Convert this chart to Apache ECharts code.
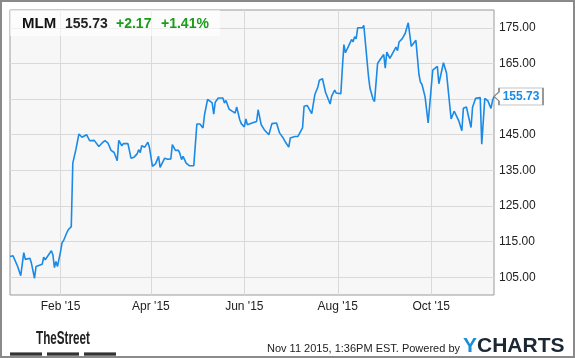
<!DOCTYPE html>
<html><head><meta charset="utf-8">
<script src="https://cdn.jsdelivr.net/npm/echarts@6/dist/echarts.min.js"></script>
<style>html,body{margin:0;padding:0;background:#fff}#c{width:575px;height:358px}</style>
</head><body><div id="c"></div>
<script>
const dates = ['2014-12-30','2015-01-01','2015-01-04','2015-01-06','2015-01-08','2015-01-09','2015-01-12','2015-01-13','2015-01-15','2015-01-16',
'2015-01-20','2015-01-21','2015-01-22','2015-01-26','2015-01-27','2015-01-28','2015-01-29','2015-01-30','2015-02-01','2015-02-02',
'2015-02-03','2015-02-05','2015-02-06','2015-02-08','2015-02-09','2015-02-11','2015-02-13','2015-02-15','2015-02-16','2015-02-18',
'2015-02-19','2015-02-20','2015-02-23','2015-02-24','2015-02-26','2015-02-28','2015-03-02','2015-03-04','2015-03-06','2015-03-08',
'2015-03-10','2015-03-11','2015-03-13','2015-03-14','2015-03-17','2015-03-19','2015-03-21','2015-03-23','2015-03-24','2015-03-25',
'2015-03-26','2015-03-28','2015-03-30','2015-03-31','2015-04-02','2015-04-04','2015-04-06','2015-04-07','2015-04-08','2015-04-10',
'2015-04-12','2015-04-14','2015-04-15','2015-04-16','2015-04-17','2015-04-19','2015-04-20','2015-04-21','2015-04-22','2015-04-24',
'2015-04-26','2015-04-29','2015-05-01','2015-05-03','2015-05-05','2015-05-06','2015-05-08','2015-05-11','2015-05-12','2015-05-13',
'2015-05-15','2015-05-18','2015-05-19','2015-05-20','2015-05-22','2015-05-24','2015-05-26','2015-05-27','2015-05-29','2015-05-30',
'2015-06-01','2015-06-02','2015-06-03','2015-06-06','2015-06-09','2015-06-10','2015-06-11','2015-06-12','2015-06-14','2015-06-17',
'2015-06-19','2015-06-20','2015-06-22','2015-06-24','2015-06-26','2015-06-28','2015-06-30','2015-07-01','2015-07-04','2015-07-06',
'2015-07-07','2015-07-09','2015-07-10','2015-07-12','2015-07-13','2015-07-15','2015-07-17','2015-07-19','2015-07-20','2015-07-22',
'2015-07-24','2015-07-27','2015-07-28','2015-07-30','2015-07-31','2015-08-03','2015-08-04','2015-08-05','2015-08-06','2015-08-07',
'2015-08-10','2015-08-11','2015-08-12','2015-08-13','2015-08-14','2015-08-17','2015-08-18','2015-08-21','2015-08-22','2015-08-24',
'2015-08-25','2015-08-27','2015-08-29','2015-08-31','2015-09-01','2015-09-02','2015-09-04','2015-09-08','2015-09-09','2015-09-10',
'2015-09-12','2015-09-14','2015-09-16','2015-09-17','2015-09-18','2015-09-21','2015-09-23','2015-09-24','2015-09-25','2015-09-27',
'2015-09-29','2015-10-02','2015-10-05','2015-10-06','2015-10-07','2015-10-09','2015-10-11','2015-10-14','2015-10-16','2015-10-18',
'2015-10-19','2015-10-20','2015-10-21','2015-10-22','2015-10-24','2015-10-25','2015-10-27','2015-10-28','2015-10-29','2015-10-30',
'2015-11-02','2015-11-03','2015-11-05','2015-11-07','2015-11-09','2015-11-10','2015-11-11'];
const prices = [110.8,111.0,108.0,105.4,111.9,110.0,110.3,108.9,104.7,108.0,
108.6,110.6,109.9,112.4,111.3,107.7,109.4,108.0,112.2,114.7,
115.3,117.4,118.3,119.2,137.0,140.8,145.2,144.3,143.8,145.0,
145.0,143.3,143.4,142.9,141.7,142.6,143.3,142.6,140.6,140.0,
137.7,143.4,141.9,142.5,142.5,138.4,138.7,139.6,140.8,140.0,
141.9,141.5,142.9,141.5,136.1,136.8,138.9,135.8,136.3,138.4,
138.1,138.2,142.2,141.7,140.6,140.6,139.6,138.0,138.9,137.0,
136.3,136.3,148.0,148.0,146.9,150.6,154.9,153.9,150.8,154.1,
155.3,155.3,153.9,154.6,152.2,151.6,151.1,152.8,149.2,148.1,
147.2,149.4,147.8,148.3,148.7,152.0,151.8,147.8,146.4,145.0,
148.1,148.5,148.3,145.5,144.3,142.8,141.5,144.1,144.5,144.5,
145.0,146.9,153.0,153.2,153.0,150.9,156.2,158.4,160.3,160.7,
156.9,153.6,155.8,157.5,156.7,156.5,163.7,170.3,168.0,167.5,
171.7,171.1,172.5,171.9,175.0,175.0,175.7,161.6,158.1,155.0,
154.3,165.0,166.3,167.5,163.7,168.2,166.4,169.6,168.6,171.0,
171.9,173.4,176.4,175.9,169.8,171.5,161.9,159.7,159.1,155.6,
148.3,163.1,164.2,159.3,159.5,165.2,162.3,149.4,151.6,149.8,
148.9,148.4,146.1,152.4,152.8,150.8,147.0,152.7,152.2,155.2,
155.4,142.3,155.2,154.5,152.4,154.5,155.73];
const xTickDates = ['2015-02-01','2015-04-01','2015-06-01','2015-08-01','2015-10-01'];
const xTickLabels = ["Feb '15","Apr '15","Jun '15","Aug '15","Oct '15"];
const yTicks = [105,115,125,135,145,155,165,175];
const ticker = 'MLM', lastPrice = '155.73', change = '+2.17', changePct = '+1.41%';
const footerText = 'Nov 11 2015, 1:36PM EST. Powered by';

function toTs(s){const p=s.split('-').map(Number);return new Date(p[0],p[1]-1,p[2]).getTime();}
const xTickTs = xTickDates.map(toTs);
const seriesData = dates.map((d,i)=>[toTs(d),prices[i]]);
const FF = '"Liberation Sans", Arial, sans-serif';
const green = '#1a9c1a', blue = '#1a8ae6';

const chart = echarts.init(document.getElementById('c'), null, {renderer:'canvas'});
chart.setOption({
  animation:false,
  backgroundColor:'#fff',
  grid:{left:10,right:81,top:10,bottom:63,show:true,backgroundColor:'#f7f7f7',borderColor:'#999',borderWidth:1},
  xAxis:{
    type:'value', min:toTs('2014-12-30'), max:toTs('2015-11-11'),
    axisLine:{show:false},
    axisTick:{show:false, customValues:xTickTs},
    splitLine:{show:true,lineStyle:{color:'#d9d9d9',width:1}},
    axisLabel:{customValues:xTickTs, margin:6, color:'#222', fontSize:12, fontFamily:FF,
      formatter:function(v){let bi=0,bd=Infinity;xTickTs.forEach((t,i)=>{const d=Math.abs(t-v);if(d<bd){bd=d;bi=i;}});return xTickLabels[bi];}}
  },
  yAxis:{
    type:'value', position:'right', min:100, max:180,
    axisLine:{show:false},
    axisTick:{show:false, customValues:yTicks},
    splitLine:{show:true,lineStyle:{color:'#d9d9d9',width:1}},
    axisLabel:{customValues:yTicks, margin:5, color:'#222', fontSize:12, fontFamily:FF,
      formatter:function(v){return Number(v).toFixed(2);}}
  },
  series:[{
    type:'line', data:seriesData, showSymbol:false, symbol:'none',
    lineStyle:{color:blue,width:1.6}, z:3,
    markPoint:{
      silent:true,
      symbol:'path://M0,8.5 L5,4 L5,0 L49,0 L49,17 L5,17 L5,13 Z',
      symbolSize:[49,17], symbolOffset:[24.5,0],
      itemStyle:{color:'#fff',borderColor:'#888',borderWidth:1},
      label:{show:true,position:'inside',offset:[2.5,0],formatter:lastPrice,color:blue,fontWeight:'bold',fontSize:12,fontFamily:FF},
      data:[{coord:seriesData[seriesData.length-1]}]
    }
  }],
  graphic:{elements:[
    {type:'rect',z:100,shape:{x:10,y:10,width:210,height:26},style:{fill:'rgba(255,255,255,0.6)'}},
    {type:'text',z:101,x:22,y:24,style:{text:ticker,font:'bold 15px '+FF,fill:'#111',verticalAlign:'middle'}},
    {type:'text',z:101,x:65,y:24,style:{text:lastPrice,font:'bold 14px '+FF,fill:'#222',verticalAlign:'middle'}},
    {type:'text',z:101,x:116,y:24,style:{text:change,font:'bold 14px '+FF,fill:green,verticalAlign:'middle'}},
    {type:'text',z:101,x:161,y:24,style:{text:changePct,font:'bold 14px '+FF,fill:green,verticalAlign:'middle'}},
    {type:'text',z:101,x:36,y:339,scaleX:0.65,style:{text:'TheStreet',font:'bold 18px '+FF,fill:'#222',verticalAlign:'middle'}},
    {type:'rect',z:101,shape:{x:10,y:352.4,width:32,height:3.3},style:{fill:'#333'}},
    {type:'rect',z:101,shape:{x:47,y:352.4,width:32,height:3.3},style:{fill:'#333'}},
    {type:'rect',z:101,shape:{x:84,y:352.4,width:32,height:3.3},style:{fill:'#333'}},
    {type:'text',z:101,x:460,y:349,style:{text:footerText,font:'11px '+FF,fill:'#222',align:'right',verticalAlign:'middle'}},
    {type:'text',z:101,x:463,y:346.5,style:{text:'{y|Y}{c|CHARTS}',verticalAlign:'middle',
      rich:{y:{fill:'#1a8fd8',font:'bold 21px '+FF},c:{fill:'#1b2733',font:'bold 21px '+FF}}}},
    {type:'rect',z:120,shape:{x:1,y:1,width:573,height:356},style:{fill:'none',stroke:'#8a8a8a',lineWidth:2}}
  ]}
});
</script></body></html>
